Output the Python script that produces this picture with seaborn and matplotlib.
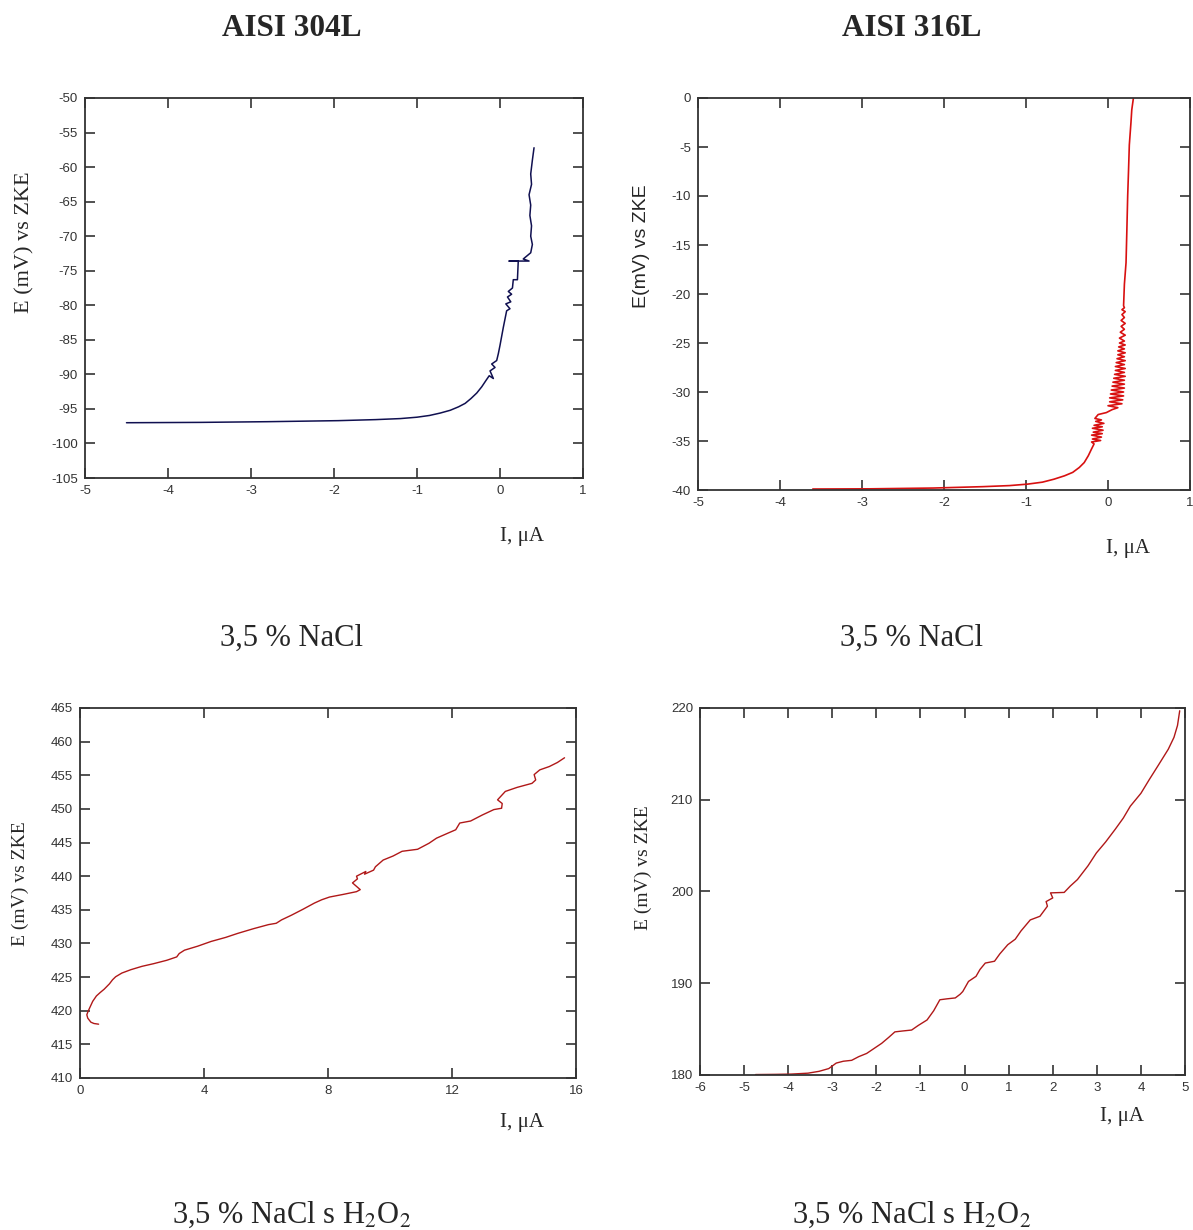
import matplotlib
matplotlib.use("Agg")
import matplotlib.pyplot as plt
import seaborn as sns

# AISI 304L, 3,5 % NaCl
i_304_nacl = [-4.5, -3.6, -2.8, -1.95, -1.5, -1.2, -1.0, -0.85, -0.72, -0.6,
              -0.5, -0.42, -0.35, -0.28, -0.22, -0.17, -0.13, -0.08, -0.12, -0.06,
              -0.1, -0.04, -0.02, 0.0, 0.02, 0.04, 0.06, 0.08, 0.12, 0.07,
              0.13, 0.09, 0.14, 0.1, 0.15, 0.16, 0.21, 0.22, 0.11, 0.35,
              0.28, 0.37, 0.39, 0.37, 0.38, 0.36, 0.37, 0.35, 0.38, 0.37,
              0.39, 0.41]
e_304_nacl = [-97.0, -96.95, -96.85, -96.7, -96.55, -96.4, -96.2, -95.95, -95.6, -95.2,
              -94.7, -94.2, -93.5, -92.7, -91.8, -90.9, -90.2, -90.6, -89.5, -89.0,
              -88.5, -88.0, -87.0, -85.8, -84.5, -83.2, -82.0, -80.8, -80.5, -79.8,
              -79.5, -78.8, -78.4, -78.0, -77.5, -76.3, -76.3, -73.6, -73.6, -73.6,
              -73.3, -72.4, -71.2, -70.0, -68.5, -67.0, -65.5, -64.0, -62.5, -61.0,
              -59.0, -57.2]

# AISI 316L, 3,5 % NaCl (pieces of one curve)
i_316_low = [-3.6, -2.9, -2.13, -1.53, -1.2, -0.98, -0.8, -0.66, -0.53, -0.43,
             -0.35, -0.29, -0.24, -0.2, -0.17]
e_316_low = [-39.9, -39.88, -39.8, -39.66, -39.55, -39.4, -39.2, -38.9, -38.55, -38.2,
             -37.7, -37.2, -36.5, -35.8, -35.3]
i_316_band1 = [-0.2, -0.09, -0.19, -0.08, -0.2, -0.07, -0.18, -0.06, -0.19, -0.07,
               -0.17, -0.05, -0.15, -0.08, -0.16]
e_316_band1 = [-35.1, -34.95, -34.8, -34.6, -34.4, -34.25, -34.1, -33.9, -33.7, -33.55,
               -33.4, -33.2, -33.0, -32.85, -32.7]
i_316_mid = [-0.12, -0.02, 0.05, 0.12]
e_316_mid = [-32.3, -32.1, -31.8, -31.6]
i_316_band2 = [0.0, 0.17, 0.02, 0.18, 0.02, 0.19, 0.03, 0.19, 0.04, 0.2,
               0.05, 0.2, 0.06, 0.2, 0.07, 0.21, 0.08, 0.2, 0.09, 0.21,
               0.09, 0.2, 0.1, 0.21, 0.11, 0.2, 0.12, 0.21, 0.12, 0.2,
               0.13, 0.21, 0.14, 0.2, 0.14, 0.21, 0.15, 0.2, 0.16, 0.21,
               0.16, 0.2, 0.17, 0.21, 0.17, 0.2]
e_316_band2 = [-31.4, -31.2, -31.0, -30.8, -30.6, -30.4, -30.2, -30.0, -29.8, -29.6,
               -29.4, -29.2, -29.0, -28.8, -28.6, -28.4, -28.2, -28.0, -27.8, -27.6,
               -27.4, -27.2, -27.0, -26.8, -26.6, -26.4, -26.2, -26.0, -25.8, -25.6,
               -25.4, -25.2, -25.0, -24.8, -24.5, -24.2, -23.9, -23.6, -23.3, -23.0,
               -22.7, -22.4, -22.1, -21.8, -21.6, -21.4]
i_316_top = [0.19, 0.2, 0.22, 0.23, 0.24, 0.25, 0.26, 0.28, 0.29, 0.31]
e_316_top = [-21.2, -19.0, -16.8, -13.5, -10.0, -7.5, -4.8, -2.5, -1.2, 0.0]

# AISI 304L, 3,5 % NaCl s H2O2
i_304_h2o2 = [0.6, 0.45, 0.35, 0.25, 0.22, 0.26, 0.33, 0.41, 0.53, 0.65,
              0.78, 0.95, 1.05, 1.15, 1.35, 1.64, 2.0, 2.38, 2.8, 3.12,
              3.2, 3.37, 3.8, 4.23, 4.7, 5.09, 5.6, 6.08, 6.33, 6.5,
              6.82, 7.2, 7.56, 7.8, 8.05, 8.5, 8.92, 9.04, 8.79, 8.95,
              8.92, 9.22, 9.18, 9.47, 9.53, 9.78, 10.1, 10.39, 10.89, 11.26,
              11.5, 11.87, 12.12, 12.25, 12.6, 12.98, 13.35, 13.6, 13.62, 13.47,
              13.72, 14.1, 14.58, 14.7, 14.65, 14.83, 15.14, 15.4, 15.63]
e_304_h2o2 = [418.0, 418.1, 418.3, 418.9, 419.4, 419.9, 420.6, 421.4, 422.2, 422.7,
              423.2, 424.0, 424.6, 425.05, 425.6, 426.1, 426.6, 427.0, 427.5, 428.0,
              428.5, 429.0, 429.6, 430.3, 430.9, 431.5, 432.2, 432.8, 433.0, 433.5,
              434.2, 435.1, 436.0, 436.5, 436.9, 437.3, 437.7, 438.0, 439.0, 439.6,
              440.0, 440.7, 440.3, 440.9, 441.4, 442.4, 443.0, 443.7, 444.0, 444.9,
              445.65, 446.4, 446.9, 447.9, 448.2, 449.1, 449.9, 450.1, 450.8, 451.35,
              452.6, 453.2, 453.8, 454.3, 455.1, 455.8, 456.3, 456.9, 457.6]

# AISI 316L, 3,5 % NaCl s H2O2
i_316_h2o2 = [-4.74, -4.3, -3.93, -3.55, -3.3, -3.08, -2.91, -2.75, -2.56, -2.4,
              -2.22, -2.05, -1.88, -1.72, -1.58, -1.4, -1.2, -1.05, -0.85, -0.7,
              -0.56, -0.4, -0.21, -0.1, -0.04, 0.09, 0.26, 0.35, 0.47, 0.68,
              0.8, 0.98, 1.15, 1.28, 1.49, 1.71, 1.88, 1.85, 2.0, 1.95,
              2.26, 2.4, 2.56, 2.8, 2.99, 3.2, 3.42, 3.6, 3.76, 4.0,
              4.19, 4.4, 4.62, 4.75, 4.83, 4.88]
e_316_h2o2 = [180.05, 180.07, 180.1, 180.2, 180.4, 180.7, 181.3, 181.5, 181.6, 182.0,
              182.35, 182.9, 183.45, 184.1, 184.7, 184.8, 184.9, 185.4, 186.0, 187.0,
              188.2, 188.3, 188.4, 188.8, 189.1, 190.2, 190.75, 191.5, 192.2, 192.4,
              193.2, 194.2, 194.8, 195.7, 196.9, 197.3, 198.4, 198.9, 199.3, 199.85,
              199.9, 200.6, 201.3, 202.8, 204.2, 205.4, 206.8, 208.0, 209.3, 210.7,
              212.2, 213.8, 215.5, 216.8, 218.1, 219.7]

titles = ["AISI 304L", "AISI 316L"]
captions = ["3,5 % NaCl", "3,5 % NaCl s H$_2$O$_2$"]

sns.set_style("ticks")
plt.rcParams["font.family"] = ["Liberation Sans", "DejaVu Sans"]
plt.rcParams["mathtext.fontset"] = "stix"
plt.rcParams["axes.unicode_minus"] = False

W, H = 1193, 1230
fig = plt.figure(figsize=(W / 100, H / 100), dpi=100)


def add_ax(l, t, r, b):
    return fig.add_axes([l / W, 1 - b / H, (r - l) / W, (b - t) / H])


def txt(x, y, s, **kw):
    fig.text(x / W, 1 - y / H, s, ha="center", va="center", **kw)


def style(ax, xlim, ylim, xticks, yticks):
    ax.set_xlim(*xlim)
    ax.set_ylim(*ylim)
    ax.set_xticks(xticks)
    ax.set_yticks(yticks)
    ax.set_xlabel("")
    ax.set_ylabel("")
    ax.tick_params(direction="in", top=True, right=True, length=7, width=1.2,
                   labelsize=9.5, labelcolor="#333333", color="#333333", pad=5)
    for sp in ax.spines.values():
        sp.set_linewidth(1.3)
        sp.set_color("#333333")


serif = "Liberation Serif"

ax1 = add_ax(85, 98, 583, 478)
sns.lineplot(x=i_304_nacl, y=e_304_nacl, sort=False, estimator=None, ax=ax1,
             color="#101050", lw=1.1)
style(ax1, (-5, 1), (-105, -50), range(-5, 2), range(-105, -49, 5))

ax2 = add_ax(698, 98, 1190, 490)
i_316 = i_316_low + i_316_band1 + i_316_mid + i_316_band2 + i_316_top
e_316 = e_316_low + e_316_band1 + e_316_mid + e_316_band2 + e_316_top
sns.lineplot(x=i_316, y=e_316, sort=False, estimator=None, ax=ax2,
             color="#d81010", lw=1.2)
style(ax2, (-5, 1), (-40, 0), range(-5, 2), range(-40, 1, 5))

ax3 = add_ax(80, 708, 576, 1078)
sns.lineplot(x=i_304_h2o2, y=e_304_h2o2, sort=False, estimator=None, ax=ax3,
             color="#b01818", lw=1.0)
style(ax3, (0, 16), (410, 465), range(0, 17, 4), range(410, 466, 5))

ax4 = add_ax(700, 708, 1185, 1075)
sns.lineplot(x=i_316_h2o2, y=e_316_h2o2, sort=False, estimator=None, ax=ax4,
             color="#b01818", lw=1.0)
style(ax4, (-6, 5), (180, 220), range(-6, 6), range(180, 221, 10))

# titles and captions
txt(292, 28, titles[0], fontsize=22.5, fontweight="bold", family=serif)
txt(912, 28, titles[1], fontsize=22.5, fontweight="bold", family=serif)
txt(292, 638, captions[0], fontsize=22, family=serif)
txt(912, 638, captions[0], fontsize=22, family=serif)
txt(292, 1215, captions[1], fontsize=22, family=serif)
txt(912, 1215, captions[1], fontsize=22, family=serif)

# axis labels
txt(522, 537, "I, μA", fontsize=15, family=serif)
txt(1128, 548, "I, μA", fontsize=15, family=serif)
txt(522, 1122, "I, μA", fontsize=15, family=serif)
txt(1122, 1117, "I, μA", fontsize=15, family=serif)
txt(25, 242, "E (mV) vs ZKE", fontsize=16, family=serif, rotation=90)
txt(642, 246, "E(mV) vs ZKE", fontsize=14, family="Liberation Sans", rotation=90)
txt(20, 884, "E (mV) vs ZKE", fontsize=14, family=serif, rotation=90)
txt(643, 868, "E (mV) vs ZKE", fontsize=14, family=serif, rotation=90)

fig.savefig("out.png", dpi=100, facecolor="white")
